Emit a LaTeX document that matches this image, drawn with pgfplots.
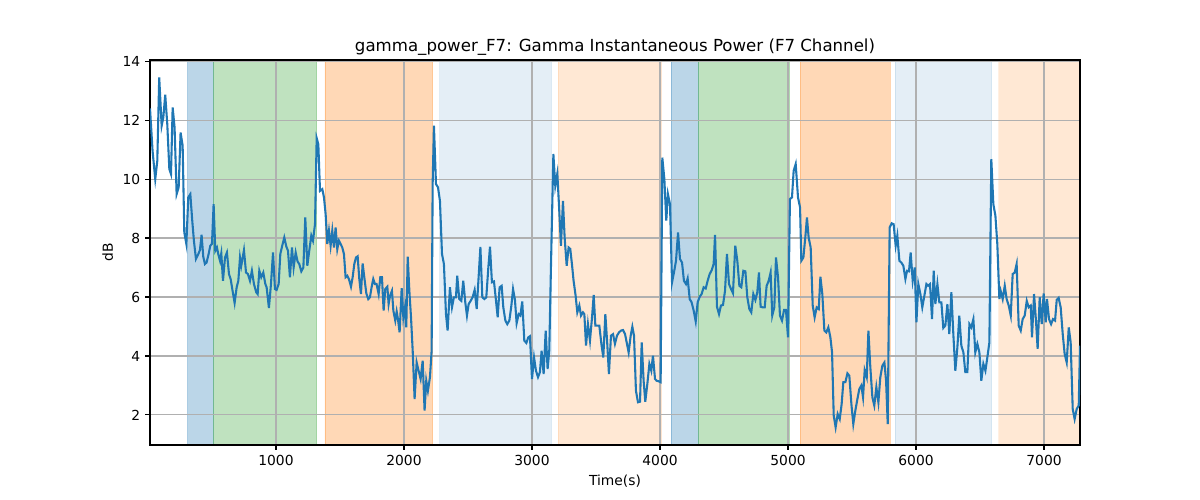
\documentclass[border=0pt]{standalone}
\usepackage{fontspec}
\setmainfont{DejaVu Sans}
\usepackage{pgfplots}
\pgfplotsset{compat=1.18}
\definecolor{tabblue}{RGB}{31,119,180}
\definecolor{taborange}{RGB}{255,127,14}
\definecolor{tabgreen}{RGB}{44,160,44}
\definecolor{gridgray}{RGB}{176,176,176}
\pgfplotsset{set layers}
\begin{document}
\begin{tikzpicture}
\begin{axis}[
  at={(108bp,39.6bp)}, anchor=south west,
  scale only axis, width=669.6bp, height=277.2bp,
  xmin=16, xmax=7281, ymin=0.98, ymax=14.04,
  xtick={1000,2000,...,7000}, ytick={2,4,...,14},
  grid=major, grid style={gridgray, line width=0.8bp},
  axis line style={line width=0.8bp},
  tick style={black, line width=0.8bp},
  tick align=outside, major tick length=3.5bp,
  xtick pos=bottom, ytick pos=left,
  /pgf/number format/assume math mode=true,
  /pgf/number format/1000 sep={},
  ticklabel style={font=\fontsize{10}{12}\selectfont},
  xlabel={Time(s)}, ylabel={dB},
  label style={font=\fontsize{10}{12}\selectfont},
  title={gamma\_power\_F7: Gamma Instantaneous Power (F7 Channel)},
  title style={font=\fontsize{12}{14}\selectfont, yshift=-6.5bp},
  span/.style={on layer=axis background, line width=0.7bp},
]
% spans
\addplot[span, fill=tabblue, draw=tabblue, opacity=0.3] coordinates {(310,0.98) (310,14.04) (512,14.04) (512,0.98) (310,0.98)};
\addplot[span, fill=tabgreen, draw=tabgreen, opacity=0.3] coordinates {(512,0.98) (512,14.04) (1318,14.04) (1318,0.98) (512,0.98)};
\addplot[span, fill=taborange, draw=taborange, opacity=0.3] coordinates {(1383,0.98) (1383,14.04) (2224,14.04) (2224,0.98) (1383,0.98)};
\addplot[span, fill=tabblue, draw=tabblue, opacity=0.12] coordinates {(2281,0.98) (2281,14.04) (3152,14.04) (3152,0.98) (2281,0.98)};
\addplot[span, fill=taborange, draw=taborange, opacity=0.18] coordinates {(3206,0.98) (3206,14.04) (4008,14.04) (4008,0.98) (3206,0.98)};
\addplot[span, fill=tabblue, draw=tabblue, opacity=0.3] coordinates {(4086,0.98) (4086,14.04) (4299,14.04) (4299,0.98) (4086,0.98)};
\addplot[span, fill=tabgreen, draw=tabgreen, opacity=0.3] coordinates {(4299,0.98) (4299,14.04) (5010,14.04) (5010,0.98) (4299,0.98)};
\addplot[span, fill=taborange, draw=taborange, opacity=0.3] coordinates {(5094,0.98) (5094,14.04) (5797,14.04) (5797,0.98) (5094,0.98)};
\addplot[span, fill=tabblue, draw=tabblue, opacity=0.12] coordinates {(5836,0.98) (5836,14.04) (6591,14.04) (6591,0.98) (5836,0.98)};
\addplot[span, fill=taborange, draw=none, opacity=0.18] coordinates {(6643,0.98) (6643,14.04) (7281,14.04) (7281,0.98) (6643,0.98)};
% signal
\addplot[tabblue, line width=1.5bp, mark=none] coordinates {
(16,12.4) (36,10.96) (57,10.0) (73,10.62) (88,13.45) (107,11.81) (120,12.09) (135,12.86) (151,11.86) (167,10.34) (180,10.17) (193,12.43) (208,11.75) (224,9.49) (240,9.72) (255,11.58) (271,11.13) (284,8.19) (300,7.8) (315,9.38) (331,9.49) (346,8.59) (359,7.91) (375,7.29) (391,7.43) (406,7.59) (419,8.11) (432,7.37) (445,7.12) (458,7.17) (474,7.46) (487,7.74) (500,7.8) (513,9.15) (526,7.57) (539,7.68) (549,7.46) (563,7.23) (573,7.48) (586,6.55) (602,7.34) (617,7.51) (633,6.78) (646,6.61) (661,6.21) (677,5.8) (693,6.33) (706,6.55) (719,7.34) (729,7.06) (750,7.59) (766,6.83) (781,6.78) (797,6.55) (812,6.89) (828,6.44) (846,6.16) (857,6.1) (870,6.89) (885,6.67) (901,6.83) (917,6.44) (927,6.33) (945,5.63) (961,6.44) (977,7.51) (992,6.27) (1005,6.24) (1021,6.44) (1034,7.46) (1049,7.74) (1065,8.02) (1081,7.71) (1094,7.57) (1109,6.67) (1125,7.68) (1138,7.0) (1154,7.51) (1169,7.2) (1182,7.12) (1198,6.87) (1214,7.0) (1229,8.7) (1245,7.06) (1260,7.57) (1276,8.08) (1289,7.91) (1305,8.47) (1318,11.39) (1331,11.18) (1344,9.6) (1362,9.66) (1375,9.38) (1388,8.81) (1401,7.8) (1414,8.25) (1427,7.74) (1440,8.25) (1453,7.68) (1466,8.36) (1479,7.62) (1492,7.91) (1505,7.8) (1518,7.68) (1531,7.46) (1544,6.67) (1557,6.72) (1570,6.61) (1586,6.35) (1599,6.67) (1612,7.12) (1625,7.34) (1638,7.38) (1651,6.61) (1664,6.1) (1677,7.14) (1690,6.67) (1706,6.12) (1721,5.93) (1734,5.99) (1747,6.33) (1760,6.61) (1773,6.44) (1786,6.44) (1802,6.1) (1815,6.67) (1828,6.67) (1841,5.54) (1854,6.27) (1870,6.35) (1880,5.76) (1891,6.04) (1906,6.21) (1917,5.54) (1932,5.2) (1943,5.51) (1953,5.25) (1966,4.8) (1982,6.3) (1995,5.31) (2008,5.65) (2018,4.97) (2029,7.37) (2042,6.21) (2055,5.31) (2068,4.18) (2083,2.54) (2099,3.78) (2114,3.5) (2130,3.22) (2146,3.84) (2161,2.15) (2174,3.16) (2187,2.82) (2203,3.28) (2216,4.18) (2224,9.83) (2234,11.81) (2250,9.83) (2266,9.72) (2281,9.26) (2297,7.46) (2312,7.12) (2328,5.42) (2341,4.86) (2359,6.33) (2375,5.65) (2390,5.99) (2406,5.99) (2416,6.72) (2432,5.93) (2448,5.87) (2463,6.55) (2479,5.82) (2492,5.37) (2505,5.76) (2521,5.87) (2536,5.99) (2552,6.24) (2568,5.59) (2583,6.67) (2597,7.7)
(2612,5.99) (2628,5.93) (2643,5.99) (2659,7.0) (2672,7.71) (2687,6.5) (2703,6.53) (2719,5.87) (2732,5.31) (2747,6.33) (2763,6.38) (2776,5.65) (2792,5.2) (2807,5.08) (2823,5.2) (2839,5.71) (2852,6.27) (2867,5.9) (2880,5.11) (2896,5.42) (2909,5.37) (2924,5.85) (2940,4.52) (2956,4.44) (2971,4.63) (2984,4.67) (3000,3.22) (3016,3.95) (3031,3.5) (3047,3.28) (3062,3.45) (3075,4.18) (3091,3.39) (3107,4.86) (3122,3.56) (3135,4.18) (3148,7.0) (3167,10.85) (3182,9.77) (3198,10.19) (3213,8.93) (3226,7.74) (3242,9.26) (3255,8.02) (3271,7.06) (3286,7.68) (3299,7.63) (3312,7.12) (3325,6.55) (3341,6.04) (3354,5.48) (3370,5.71) (3383,5.37) (3398,5.48) (3409,5.42) (3422,4.35) (3437,5.08) (3453,4.52) (3469,5.31) (3482,6.07) (3495,5.03) (3510,5.03) (3526,5.03) (3542,4.41) (3557,3.95) (3573,5.42) (3588,4.41) (3601,3.39) (3617,4.69) (3633,4.74) (3648,4.41) (3664,4.69) (3680,4.8) (3695,4.86) (3711,4.88) (3727,4.74) (3742,4.41) (3755,4.12) (3771,4.69) (3784,4.99) (3797,4.69) (3812,2.82) (3828,2.43) (3844,2.45) (3857,4.46) (3872,3.16) (3885,2.45) (3901,3.05) (3917,3.73) (3932,3.5) (3945,4.01) (3961,3.22) (3974,3.16) (3990,3.14) (4005,3.11) (4018,10.73) (4034,10.0) (4049,8.59) (4062,9.49) (4078,9.15) (4094,6.5) (4109,6.83) (4125,7.23) (4141,8.19) (4156,7.29) (4172,7.17) (4187,6.55) (4203,6.44) (4216,6.63) (4232,5.93) (4247,5.82) (4263,5.54) (4279,5.17) (4294,5.82) (4310,6.01) (4325,6.1) (4341,6.33) (4357,6.29) (4372,6.55) (4388,6.78) (4404,6.91) (4419,7.12) (4430,8.11) (4445,5.67) (4461,5.42) (4476,5.71) (4492,5.73) (4508,6.21) (4523,7.46) (4539,6.44) (4555,6.27) (4570,6.13) (4588,7.74) (4604,7.23) (4620,6.38) (4635,6.33) (4651,6.89) (4667,6.87) (4682,5.99) (4698,5.59) (4713,5.48) (4729,6.1) (4745,5.9) (4760,6.16) (4773,6.83) (4786,5.67) (4802,5.65) (4818,5.65) (4833,6.38) (4849,6.55) (4864,6.83) (4877,5.37) (4893,5.65) (4906,7.34) (4922,6.67) (4937,5.37) (4953,5.2) (4969,5.56) (4984,5.56) (5000,4.63) (5015,9.32) (5031,9.38) (5044,10.28) (5060,10.51) (5078,9.38) (5094,9.04)
(5104,7.23) (5120,7.34) (5135,8.02) (5148,8.7) (5161,8.02) (5177,7.68) (5193,5.71) (5208,5.31) (5224,5.65) (5240,5.59) (5253,6.69) (5268,6.1) (5284,4.86) (5299,4.8) (5315,4.97) (5331,4.63) (5344,4.12) (5357,1.98) (5372,1.58) (5388,2.03) (5404,1.86) (5419,2.37) (5432,3.11) (5448,3.11) (5464,3.41) (5479,3.33) (5495,2.37) (5510,1.69) (5526,2.15) (5542,2.54) (5557,2.88) (5573,3.0) (5586,2.6) (5599,3.52) (5615,3.28) (5628,4.86) (5643,3.62) (5659,2.6) (5674,2.32) (5690,2.94) (5706,2.43) (5721,3.28) (5737,3.67) (5753,3.78) (5766,3.16) (5779,1.69) (5794,8.36) (5810,8.5) (5825,8.47) (5841,7.74) (5854,8.08) (5870,7.23) (5885,7.17) (5901,7.06) (5917,6.61) (5930,6.89) (5945,6.87) (5958,7.51) (5974,6.55) (5990,7.0) (6003,5.14) (6018,6.44) (6034,6.1) (6049,5.65) (6065,6.04) (6081,6.44) (6094,6.38) (6109,6.44) (6125,5.25) (6138,6.89) (6151,5.76) (6167,6.44) (6182,5.82) (6198,5.82) (6213,4.95) (6229,5.03) (6245,5.76) (6260,4.74) (6276,6.16) (6292,4.69) (6307,3.5) (6323,4.29) (6338,5.37) (6354,4.35) (6370,4.12) (6385,3.45) (6401,3.45) (6417,5.08) (6432,4.97) (6448,5.25) (6463,4.12) (6479,4.41) (6495,4.12) (6510,3.16) (6526,3.73) (6542,3.5) (6557,3.95) (6573,4.46) (6588,10.68) (6604,9.15) (6620,8.76) (6635,7.8) (6651,5.93) (6661,6.21) (6677,5.93) (6693,6.38) (6708,5.93) (6724,5.71) (6740,5.37) (6755,6.78) (6771,6.83) (6786,7.12) (6802,5.03) (6818,4.86) (6833,5.25) (6849,5.37) (6865,5.87) (6880,5.65) (6896,5.71) (6906,4.63) (6922,6.1) (6937,5.2) (6950,4.24) (6966,5.99) (6982,5.08) (6997,6.12) (7013,5.14) (7023,5.93) (7039,5.25) (7055,5.08) (7070,5.25) (7086,5.2) (7099,5.9) (7114,5.97) (7130,5.65) (7146,4.74) (7161,4.07) (7177,3.78) (7193,4.97) (7208,4.46) (7224,2.2) (7239,1.86) (7255,2.2) (7271,2.32) (7281,4.35)
};
\end{axis}
\path (0,0) rectangle (864bp,360bp);
\end{tikzpicture}
\end{document}
